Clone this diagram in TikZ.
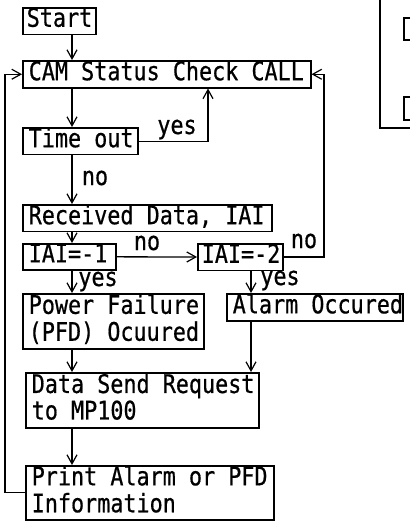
\documentclass[tikz,border=0pt]{standalone}
\usepackage{fontspec}
\newfontfamily\diagfont[FakeStretch=0.85,FakeBold=0.6]{DejaVu Sans Mono}
\usetikzlibrary{arrows.meta}
\newcommand\boxtext[2]{\makebox[#1][l]{\begin{tabular}{@{}l@{}}#2\end{tabular}}}
\tikzset{
  line/.style={line width=1.3pt},
  arr/.style={line, -{Straight Barb[length=9pt,width=10pt,line width=1.2pt]}},
  box/.style={draw, line width=1.5pt, rectangle, anchor=north west,
    inner xsep=6pt, inner ysep=0pt,
    font=\diagfont\fontsize{25.6}{25}\selectfont},
  lbl/.style={anchor=base, inner sep=0pt, font=\diagfont\fontsize{25.6}{25}\selectfont}
}
\begin{document}
\begin{tikzpicture}[x=1pt,y=-1pt]
\useasboundingbox (0,0) rectangle (410,522);
% boxes
\node[box, minimum width=73pt, minimum height=26pt, inner xsep=4pt] (start) at (22,7) {\boxtext{65pt}{Start}};
\node[box, minimum width=288pt, minimum height=27pt] (cam) at (22,60) {\boxtext{276pt}{CAM Status Check CALL}};
\node[box, minimum width=115pt, minimum height=26pt] (tout) at (22,127) {\boxtext{103pt}{Time out}};
\node[box, minimum width=249pt, minimum height=24pt] (recv) at (22,204) {\boxtext{237pt}{Received Data, IAI}};
\node[box, minimum width=93pt, minimum height=24pt] (iai1) at (22,243) {\boxtext{81pt}{IAI=-1}};
\node[box, minimum width=85pt, minimum height=24pt, inner xsep=4pt] (iai2) at (197,243) {\boxtext{77pt}{IAI=-2}};
\node[box, minimum width=176pt, minimum height=25pt] (alarm) at (226,293) {\boxtext{164pt}{Alarm Occured}};
\node[box, minimum width=181pt, minimum height=55pt] (pfd) at (22,293) {\boxtext{169pt}{Power Failure\\(PFD) Ocuured}};
\node[box, minimum width=233pt, minimum height=55pt] (send) at (25,372) {\boxtext{221pt}{Data Send Request\\to MP100}};
\node[box, minimum width=248pt, minimum height=53pt] (print) at (25,465) {\boxtext{236pt}{Print Alarm or PFD\\Information}};
% guide coordinates
\coordinate (vx) at (72,0);
\coordinate (yx) at (208,0);
\coordinate (rx) at (324,0);
\coordinate (ax) at (251,0);
\coordinate (lx) at (5,0);
% connectors
\draw[arr] (start.south -| vx) -- (cam.north -| vx);
\draw[arr] (cam.south -| vx) -- (tout.north -| vx);
\draw[arr] (tout.east) -- (tout.east -| yx) -- (cam.south -| yx);
\draw[arr] (tout.south -| vx) -- (recv.north -| vx);
\draw[arr] (recv.south -| vx) -- (iai1.north -| vx);
\draw[arr] (iai1.east) -- (iai2.west);
\draw[arr] (iai2.east) -- (iai2.east -| rx) -- (cam.east -| rx) -- (cam.east);
\draw[arr] (iai1.south -| vx) -- (pfd.north -| vx);
\draw[arr] (iai2.south -| ax) -- (alarm.north -| ax);
\draw[arr] (alarm.south -| ax) -- (send.north -| ax);
\draw[arr] (pfd.south -| vx) -- (send.north -| vx);
\draw[arr] (send.south -| vx) -- (print.north -| vx);
\draw[arr] (print.west) -- (print.west -| lx) -- (cam.west -| lx) -- (cam.west);
% labels
\node[lbl] (l1) at (177,134) {yes};
\node[lbl] (l2) at (95,185) {no};
\node[lbl] (l3) at (147,250) {no};
\node[lbl] (l4) at (304,248) {no};
\node[lbl] (l5) at (98,286) {yes};
\node[lbl] (l6) at (280,285) {yes};
% partial legend box at right edge
\draw[line] (380,0) -- (380,128) -- (410,128);
\draw[line] (410,18) -- (404,18) -- (404,40) -- (410,40);
\draw[line] (410,97) -- (404,97) -- (404,120) -- (410,120);
\end{tikzpicture}
\end{document}
